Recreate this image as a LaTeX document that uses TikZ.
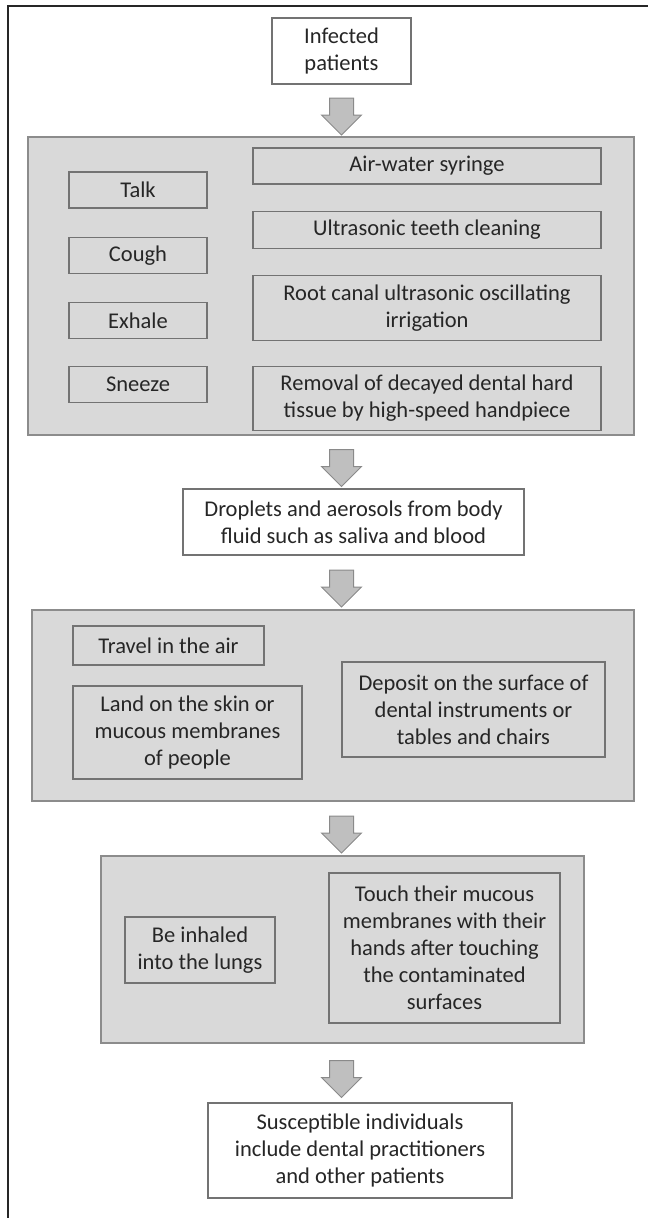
\documentclass[tikz,border=0pt]{standalone}
\usepackage{fontspec}
\setmainfont{Carlito}
\usetikzlibrary{shapes.arrows, positioning}
\definecolor{panelfill}{HTML}{D9D9D9}
\definecolor{paneledge}{HTML}{8C8C8C}
\definecolor{boxedge}{HTML}{737373}
\definecolor{arrowfill}{HTML}{BFBFBF}
\definecolor{arrowedge}{HTML}{8A8A8A}
\definecolor{textgray}{HTML}{262626}
\tikzstyle{group_panel} = [rectangle, draw=paneledge, fill=panelfill, line width=1.2pt, inner sep=0pt]
\tikzstyle{gray_box} = [rectangle, draw=boxedge, fill=panelfill, line width=1.2pt, inner sep=0pt, align=center, text=textgray, font=\fontsize{22.5}{27}\selectfont]
\tikzstyle{white_box} = [gray_box, fill=white]
\tikzstyle{cause_box} = [gray_box, minimum width=138pt, minimum height=36pt]
\tikzstyle{flow_arrow} = [single arrow, rotate=-90, draw=arrowedge, fill=arrowfill, line width=1pt, inner xsep=0pt, inner ysep=11.5pt, minimum height=37pt, single arrow head extend=8pt, single arrow tip angle=90]

\begin{document}
\begin{tikzpicture}[x=1pt, y=-1pt, node distance=28pt]
\useasboundingbox (0,0) rectangle (648,1218);
\draw [line width=2pt, black!85] (8,1218) -- (8,6) -- (648,6);

\node (infected) [white_box, minimum width=139pt, minimum height=66pt] at (341.5,51) {Infected\\patients};

% sources of droplets
\node (panel1) [group_panel, minimum width=606pt, minimum height=298pt] at (331,286) {};
\node (talk) [cause_box] at (138,190) {Talk};
\node (cough) [cause_box, below=of talk] {Cough};
\node (exhale) [cause_box, below=of cough] {Exhale};
\node (sneeze) [cause_box, below=27pt of exhale] {Sneeze};
\node (syringe) [gray_box, minimum width=348pt, minimum height=36pt] at (427,166) {Air-water syringe};
\node (cleaning) [gray_box, minimum width=348pt, minimum height=37pt, below=26pt of syringe] {Ultrasonic teeth cleaning};
\node (rootcanal) [gray_box, minimum width=348pt, minimum height=65pt, below=26pt of cleaning] {Root canal ultrasonic oscillating\\irrigation};
\node (removal) [gray_box, minimum width=348pt, minimum height=64pt, below=25pt of rootcanal] {Removal of decayed dental hard\\tissue by high-speed handpiece};

\node (droplets) [white_box, minimum width=341pt, minimum height=66pt] at (353.5,522) {Droplets and aerosols from body\\fluid such as saliva and blood};

% spreading
\node (panel2) [group_panel, minimum width=602pt, minimum height=191pt] at (333,705.5) {};
\node (travel) [gray_box, minimum width=191pt, minimum height=39pt] at (168.5,645.5) {Travel in the air};
\node (land) [gray_box, minimum width=229pt, minimum height=93pt] at (187.5,732.5) {Land on the skin or\\mucous membranes\\of people};
\node (deposit) [gray_box, minimum width=263pt, minimum height=95pt] at (473.5,709.5) {Deposit on the surface of\\dental instruments or\\tables and chairs};

% infection routes
\node (panel3) [group_panel, minimum width=483pt, minimum height=187pt] at (342.5,949.5) {};
\node (inhaled) [gray_box, minimum width=150pt, minimum height=66pt] at (200,950) {Be inhaled\\into the lungs};
\node (touch) [gray_box, minimum width=231pt, minimum height=150pt] at (444.5,948) {Touch their mucous\\membranes with their\\hands after touching\\the contaminated\\surfaces};

\node (susceptible) [white_box, minimum width=304pt, minimum height=95pt] at (360,1150.5) {Susceptible individuals\\include dental practitioners\\and other patients};

% block arrows
\path (infected) -- node[flow_arrow] {} (infected |- panel1.north);
\path (panel1.south -| infected) -- node[flow_arrow] {} (droplets.north -| infected);
\path (droplets.south -| infected) -- node[flow_arrow] {} (panel2.north -| infected);
\path (panel2.south -| infected) -- node[flow_arrow] {} (panel3.north -| infected);
\path (panel3.south -| infected) -- node[flow_arrow] {} (susceptible.north -| infected);
\end{tikzpicture}
\end{document}
